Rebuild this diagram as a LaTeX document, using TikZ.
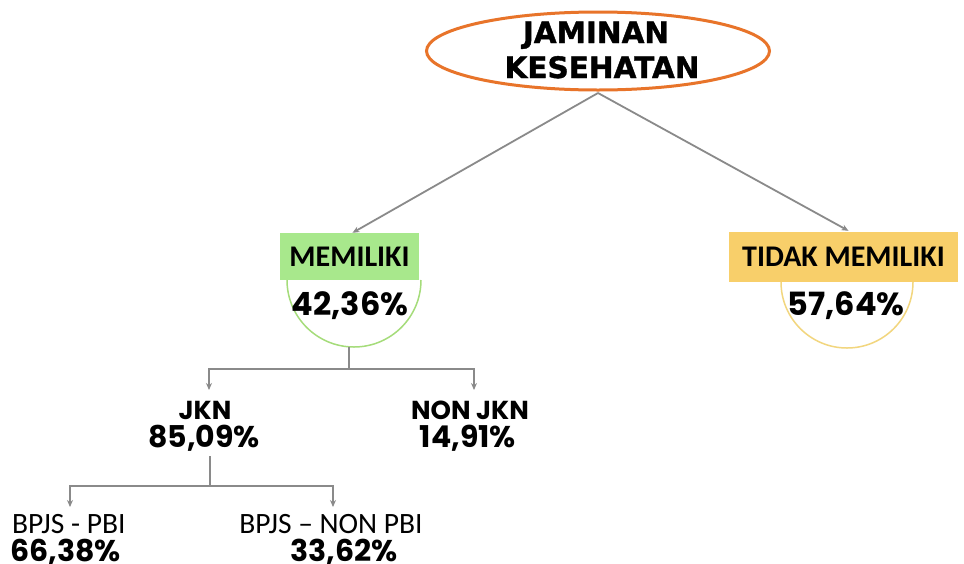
\documentclass[tikz,border=0pt]{standalone}
\usepackage{fontspec}
\setmainfont{Liberation Sans}
\newfontfamily\rootfont{DejaVu Sans}[BoldFont={DejaVu Sans Bold},BoldFeatures={FakeBold=1.3}]
\newfontfamily\calfont{Carlito}
\newfontfamily\popfont{Poppins}
\usetikzlibrary{shapes.geometric,arrows.meta,calc}
\definecolor{lineg}{HTML}{8A8A8A}
\definecolor{orangeE}{HTML}{E8742A}
\definecolor{greenF}{HTML}{A8E88C}
\definecolor{greenL}{HTML}{A5DC7A}
\definecolor{goldF}{HTML}{F8CF6A}
\definecolor{goldL}{HTML}{F2D67E}
\tikzset{
  conn/.style={draw=lineg,line width=1.8pt,-{Stealth[length=7pt,width=6pt]}},
  plain/.style={draw=lineg,line width=1.8pt},
  catbox/.style={inner sep=0pt,font=\calfont\bfseries\fontsize{30}{32}\selectfont},
  ring/.style={line width=1.5pt},
  bigpct/.style={inner sep=0pt,anchor=base,font=\popfont\bfseries\fontsize{32}{34}\selectfont},
  pct/.style={inner sep=0pt,anchor=base,font=\popfont\bfseries\fontsize{30}{32}\selectfont},
  lbl/.style={inner sep=0pt,anchor=base,font=\popfont\bfseries\fontsize{26}{28}\selectfont},
  reg/.style={inner sep=0pt,anchor=base,font=\calfont\fontsize{29.5}{32}\selectfont},
  roottxt/.style={inner sep=0pt,anchor=base,font=\rootfont\bfseries\fontsize{29.5}{32}\selectfont},
}
\begin{document}
\begin{tikzpicture}[x=1pt,y=-1pt]
\useasboundingbox[fill=white] (0,0) rectangle (964,563);

% root
\node[ellipse,draw=orangeE,line width=3pt,minimum width=343pt,minimum height=78pt,
      inner sep=0pt] (root) at (598,51) {};
\node[roottxt] (rt1) at (596,43) {JAMINAN};
\node[roottxt] (rt2) at (602,78) {KESEHATAN};

% MEMILIKI
\draw[ring,draw=greenL] (287,280) arc[start angle=180,end angle=360,radius=67pt];
\coordinate (cmb) at (349,347);
\node[catbox,fill=greenF,minimum width=139pt,minimum height=47pt] (mem) at (349.5,256.5) {MEMILIKI};
\node[bigpct] (pm) at (350,315) {42,36\%};

% TIDAK MEMILIKI
\draw[ring,draw=goldL] (781,282) arc[start angle=180,end angle=360,radius=66pt];
\node[catbox,fill=goldF,minimum width=229pt,minimum height=50pt] (tdk) at (843.5,257) {TIDAK MEMILIKI};
\node[bigpct] (pt) at (846,315) {57,64\%};

\coordinate (rb) at (598,93);
\draw[conn] (rb) -- ($(mem.north)+(3,0)$);
\draw[conn] (rb) -- ($(tdk.north)+(5,-1)$);

% level 2
\node[lbl] (jkn) at (205,419) {JKN};
\node[pct] (jknp) at (204,447) {85,09\%};
\node[lbl] (njkn) at (470,419) {NON JKN};
\node[pct] (njknp) at (468,447) {14,91\%};

\coordinate (b1) at (349,369);
\draw[plain] (cmb) -- (b1);
\draw[conn] (b1) -| ($(jkn.base)+(4,-29)$);
\draw[conn] (b1) -| ($(njkn.base)+(4,-29)$);

% level 3
\node[reg,anchor=base west] (pbi) at (12,533) {BPJS - PBI};
\node[pct,anchor=base west] (pbip) at (10,561) {66,38\%};
\node[reg] (npbi) at (331,533) {BPJS – NON PBI};
\node[pct] (npbip) at (344,561) {33,62\%};

\coordinate (b2) at (210,486);
\draw[plain] ($(jknp.base)+(6,9)$) -- (b2);
\draw[conn] (b2) -| ($(pbi.base west)+(58,-26)$);
\draw[conn] (b2) -| ($(npbi.base)+(2,-26)$);
\end{tikzpicture}
\end{document}
